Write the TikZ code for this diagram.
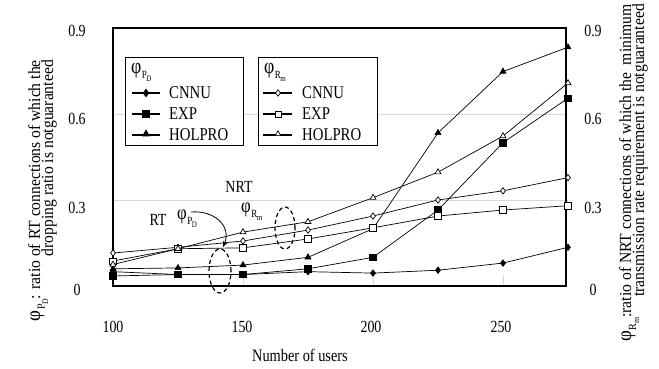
\documentclass[tikz,border=0pt]{standalone}
\usepackage{fontspec}
\setmainfont{Liberation Serif}[FakeStretch=0.82]
\newfontfamily\axfont{Liberation Serif}[FakeStretch=0.92]
\usetikzlibrary{plotmarks,shapes.geometric,arrows.meta}
\newcommand{\phisub}[2]{\scalebox{1.2}{φ}\kern0.5pt\raisebox{-5pt}{\fontsize{11}{11}\selectfont #1\kern-0.5pt\raisebox{-3pt}{\fontsize{8.5}{8.5}\selectfont #2}}}
\tikzset{
  lbl/.style={font=\fontsize{17}{17}\selectfont, inner sep=0pt},
  leglbl/.style={font=\fontsize{18}{18}\selectfont, inner sep=0pt, anchor=west},
  frame/.style={line width=1.6pt},
  grid/.style={draw=gray!30, line width=0.6pt},
  series/.style={line width=0.7pt, black},
  legline/.style={line width=1.4pt, black},
  legbox/.style={draw, line width=1pt, fill=white, inner sep=0pt, anchor=north west},
  ell/.style={draw, ellipse, dashed, dash pattern=on 4pt off 3pt, line width=1.2pt, inner sep=0pt},
  axlbl/.style={font=\axfont\fontsize{17}{17}\selectfont, inner sep=0pt, rotate=90, anchor=base east}
}
\begin{document}
\begin{tikzpicture}[x=1pt,y=-1pt]
\useasboundingbox (0,0) rectangle (659,369);
% data coordinate system
\begin{scope}[shift={(-147pt,-286pt)}, x=2.6pt, y=286.7pt]
  \draw[grid] (100,0.3) -- (275,0.3);
  \draw[grid] (100,0.6) -- (275,0.6);
  \foreach \u in {150,200,250} \draw[grid] (\u,0) -- (\u,0.04);
\end{scope}
% legend boxes
\node[legbox, minimum width=118pt, minimum height=88pt] (leg1) at (125,57) {};
\node[legbox, minimum width=119pt, minimum height=88pt] (leg2) at (258,57) {};
% frame
\draw[frame] (113,28) rectangle (566,286);
\begin{scope}[shift={(-147pt,-286pt)}, x=2.6pt, y=286.7pt]
  % RT (filled)
  \draw[series] plot[mark=diamond*, mark size=3.2pt] coordinates {(100,0.05) (125,0.04) (150,0.04) (175,0.05) (200,0.045) (225,0.055) (250,0.08) (275,0.135)};
  \draw[series] plot[mark=square*, mark size=3.2pt] coordinates {(100,0.035) (125,0.04) (150,0.04) (175,0.06) (200,0.1) (225,0.265) (250,0.5) (275,0.655)};
  \draw[series] plot[mark=triangle*, mark size=3.4pt] coordinates {(100,0.06) (125,0.063) (150,0.073) (175,0.1) (200,0.2) (225,0.534) (250,0.748) (275,0.833)};
  % NRT (open)
  \draw[series] plot[mark=diamond*, mark size=3.2pt, mark options={fill=white}] coordinates {(100,0.115) (125,0.135) (150,0.157) (175,0.195) (200,0.244) (225,0.3) (250,0.332) (275,0.378)};
  \draw[series] plot[mark=square*, mark size=3.2pt, mark options={fill=white}] coordinates {(100,0.087) (125,0.13) (150,0.133) (175,0.164) (200,0.203) (225,0.244) (250,0.265) (275,0.28)};
  \draw[series] plot[mark=triangle*, mark size=3.4pt, mark options={fill=white}] coordinates {(100,0.075) (125,0.13) (150,0.188) (175,0.224) (200,0.308) (225,0.397) (250,0.523) (275,0.708)};
\end{scope}
% legend contents
\node[leglbl] (lg1h) at (131,72) {\phisub{P}{D}};
\draw[legline] (132,93) -- (160,93) plot[mark=diamond*, mark size=3.2pt] coordinates {(146,93)};
\node[leglbl] (lg1a) at (169,93) {CNNU};
\draw[legline] (132,114) -- (160,114) plot[mark=square*, mark size=3pt] coordinates {(146,114)};
\node[leglbl] (lg1b) at (169,114) {EXP};
\draw[legline] (132,135) -- (160,135) plot[mark=triangle*, mark size=3.2pt] coordinates {(146,134)};
\node[leglbl] (lg1c) at (169,135) {HOLPRO};
\node[leglbl] (lg2h) at (264,72) {\phisub{R}{m}};
\draw[legline] (263,93) -- (292,93);
\draw[series] plot[mark=diamond*, mark size=3.2pt, mark options={fill=white}] coordinates {(278,93)};
\node[leglbl] (lg2a) at (302,93) {CNNU};
\draw[legline] (263,114) -- (292,114);
\draw[series] plot[mark=square*, mark size=3pt, mark options={fill=white}] coordinates {(278,114)};
\node[leglbl] (lg2b) at (302,114) {EXP};
\draw[legline] (263,135) -- (292,135);
\draw[series] plot[mark=triangle*, mark size=3.2pt, mark options={fill=white}] coordinates {(278,134)};
\node[leglbl] (lg2c) at (302,135) {HOLPRO};
% tick labels
\node[lbl] (yl9) at (77,31) {0.9};
\node[lbl] (yl6) at (77,119) {0.6};
\node[lbl] (yl3) at (77,208) {0.3};
\node[lbl] (yl0) at (77,290) {0};
\node[lbl] (yr9) at (593,31) {0.9};
\node[lbl] (yr6) at (593,119) {0.6};
\node[lbl] (yr3) at (593,208) {0.3};
\node[lbl] (yr0) at (593,290) {0};
\node[lbl] (x100) at (113,327) {100};
\node[lbl] (x150) at (242,327) {150};
\node[lbl] (x200) at (371,327) {200};
\node[lbl] (x250) at (501,327) {250};
\node[lbl, font=\fontsize{17.5}{17.5}\selectfont] (xt) at (300,355) {Number of users};
% axis titles
\node[axlbl] (ylt1) at (40,60) {\phisub{P}{D}: ratio of RT connections of which the};
\node[axlbl] (ylt2) at (53,60) {dropping ratio is notguaranteed};
\node[axlbl] (yrt1) at (631,4) {\phisub{R}{m}:ratio of NRT connections of which the\ \ minimum};
\node[axlbl] (yrt2) at (644,4) {transmission rate requirement is notguaranteed};
% annotations
\node[lbl] (nrt) at (239,187) {NRT};
\node[lbl, anchor=west] (phiR) at (241,212) {\phisub{R}{m}};
\node[lbl] (rt) at (158,220) {RT};
\node[lbl, anchor=west] (phiP) at (177,219) {\phisub{P}{D}};
\coordinate (arrtip) at (223,247);
\draw[line width=0.8pt, -{Stealth[length=6pt,width=5pt]}] (191,212) .. controls (214,210) and (232,226) .. (arrtip);
\node[ell, minimum width=22pt, minimum height=44pt] (ellRT) at (220,271) {};
\node[ell, minimum width=20pt, minimum height=42pt] (ellNRT) at (285,228) {};
\end{tikzpicture}
\end{document}
